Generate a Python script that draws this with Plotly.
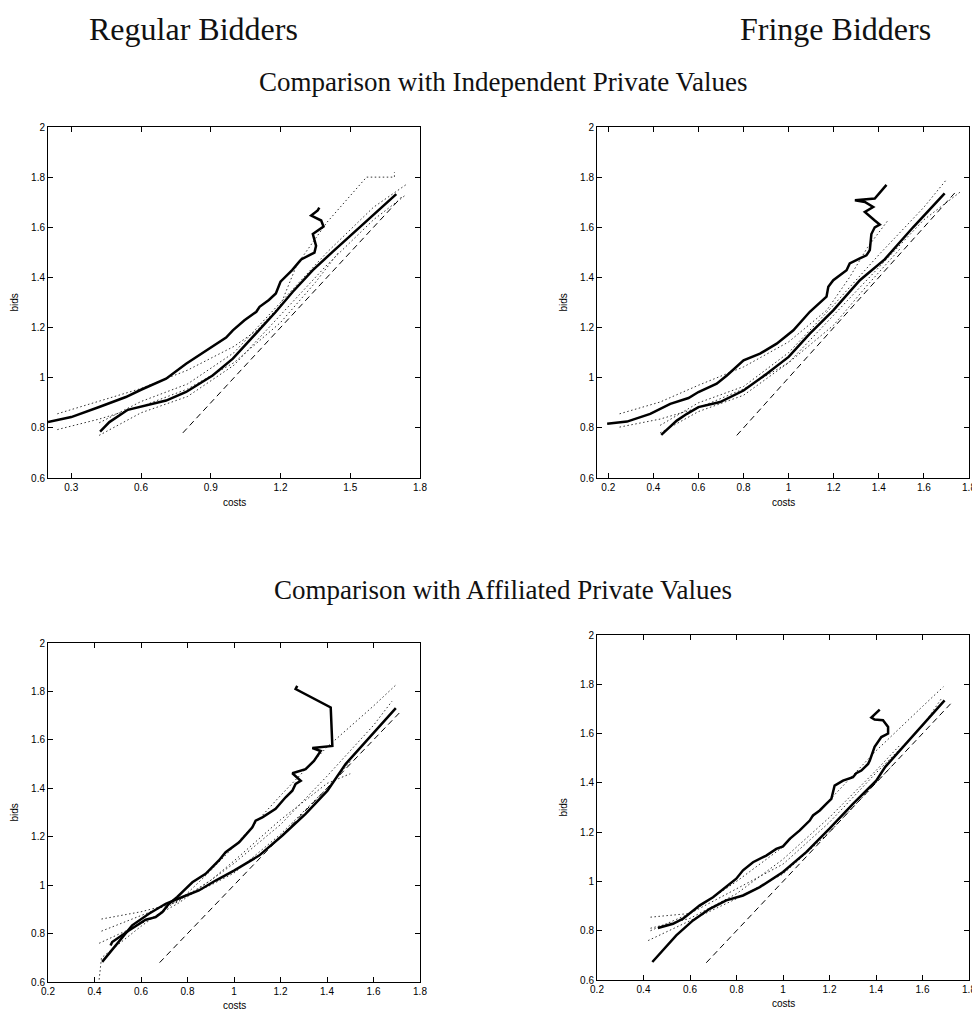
import plotly.graph_objects as go

# ---- data (costs on x, bids on y) ----
# top-left: regular bidders, independent private values
p1_upper_cost = [0.2, 0.3, 0.42, 0.535, 0.6, 0.708, 0.794, 0.88, 0.966, 0.995, 1.045, 1.096, 1.11, 1.15, 1.18,
                 1.2, 1.25, 1.28, 1.289, 1.346, 1.353, 1.339, 1.385, 1.375, 1.346, 1.332, 1.36, 1.367]
p1_upper_bid = [0.823, 0.843, 0.883, 0.923, 0.952, 0.996, 1.056, 1.109, 1.16, 1.189, 1.229, 1.263, 1.283, 1.31, 1.336,
                1.383, 1.429, 1.462, 1.472, 1.499, 1.526, 1.573, 1.603, 1.627, 1.64, 1.647, 1.667, 1.678]
p1_lower_cost = [0.424, 0.464, 0.543, 0.6, 0.708, 0.794, 0.908, 0.995, 1.08, 1.18, 1.253, 1.339, 1.425, 1.54, 1.698]
p1_lower_bid = [0.785, 0.823, 0.872, 0.885, 0.909, 0.943, 1.009, 1.076, 1.163, 1.263, 1.343, 1.429, 1.503, 1.6, 1.732]
p1_diag = [0.78, 1.72]
p1_band_a_cost = [0.24, 0.42, 0.6, 0.8, 1.0, 1.1, 1.2, 1.27, 1.4, 1.57, 1.69, 1.69]
p1_band_a_bid = [0.856, 0.905, 0.957, 1.03, 1.125, 1.19, 1.29, 1.45, 1.62, 1.8, 1.8, 1.82]
p1_band_b_cost = [0.24, 0.42, 0.6, 0.8, 1.0, 1.2, 1.35, 1.45]
p1_band_b_bid = [0.793, 0.835, 0.885, 0.955, 1.06, 1.22, 1.38, 1.5]
p1_band_c_cost = [0.42, 0.6, 0.8, 1.0, 1.2, 1.4, 1.6, 1.74]
p1_band_c_bid = [0.82, 0.905, 0.975, 1.1, 1.3, 1.5, 1.68, 1.77]
p1_band_d_cost = [0.42, 0.6, 0.8, 1.0, 1.2, 1.4, 1.6, 1.74]
p1_band_d_bid = [0.77, 0.86, 0.925, 1.05, 1.25, 1.45, 1.63, 1.73]

# top-right: fringe bidders, independent private values
p2_upper_cost = [0.195, 0.283, 0.386, 0.475, 0.556, 0.6, 0.681, 0.726, 0.8, 0.873, 0.947, 1.021, 1.094, 1.168,
                 1.176, 1.198, 1.257, 1.271, 1.316, 1.345, 1.36, 1.367, 1.382, 1.404, 1.382, 1.338, 1.375,
                 1.338, 1.294, 1.382, 1.434]
p2_upper_bid = [0.816, 0.825, 0.856, 0.896, 0.919, 0.943, 0.976, 1.009, 1.069, 1.096, 1.136, 1.189, 1.263, 1.323,
                1.363, 1.389, 1.429, 1.456, 1.476, 1.488, 1.509, 1.573, 1.6, 1.611, 1.627, 1.661, 1.681,
                1.701, 1.708, 1.715, 1.769]
p2_lower_cost = [0.435, 0.504, 0.549, 0.6, 0.696, 0.8, 0.903, 1.0, 1.094, 1.198, 1.316, 1.426, 1.552, 1.692]
p2_lower_bid = [0.772, 0.829, 0.856, 0.883, 0.903, 0.949, 1.016, 1.083, 1.176, 1.269, 1.389, 1.472, 1.6, 1.735]
p2_diag = [0.77, 1.74]
p2_band_a_cost = [0.25, 0.43, 0.6, 0.8, 1.0, 1.17, 1.27, 1.35, 1.44]
p2_band_a_bid = [0.856, 0.903, 0.97, 1.043, 1.143, 1.27, 1.4, 1.52, 1.627]
p2_band_b_cost = [0.25, 0.43, 0.6, 0.8, 1.0, 1.2, 1.35, 1.5]
p2_band_b_bid = [0.803, 0.835, 0.88, 0.955, 1.06, 1.21, 1.37, 1.52]
p2_band_c_cost = [0.43, 0.6, 0.8, 1.0, 1.2, 1.4, 1.6, 1.7]
p2_band_c_bid = [0.81, 0.9, 0.965, 1.1, 1.29, 1.49, 1.68, 1.79]
p2_band_d_cost = [0.43, 0.6, 0.8, 1.0, 1.2, 1.4, 1.6, 1.76]
p2_band_d_bid = [0.78, 0.865, 0.93, 1.06, 1.25, 1.44, 1.63, 1.74]

# bottom-left: regular bidders, affiliated private values
p3_upper_cost = [0.469, 0.476, 0.548, 0.591, 0.62, 0.663, 0.692, 0.72, 0.756, 0.785, 0.821, 0.878, 0.935, 0.964,
                 1.022, 1.079, 1.093, 1.122, 1.179, 1.222, 1.251, 1.265, 1.287, 1.251, 1.308, 1.344, 1.373,
                 1.337, 1.423, 1.416, 1.265, 1.272]
p3_upper_bid = [0.751, 0.765, 0.813, 0.841, 0.857, 0.868, 0.889, 0.923, 0.951, 0.978, 1.012, 1.047, 1.102, 1.136,
                1.177, 1.239, 1.266, 1.28, 1.315, 1.363, 1.39, 1.418, 1.431, 1.462, 1.479, 1.513, 1.554,
                1.566, 1.575, 1.734, 1.81, 1.823]
p3_lower_cost = [0.433, 0.505, 0.562, 0.634, 0.706, 0.778, 0.849, 0.921, 1.0, 1.108, 1.208, 1.308, 1.402, 1.48, 1.696]
p3_lower_bid = [0.683, 0.765, 0.834, 0.882, 0.923, 0.951, 0.978, 1.019, 1.06, 1.122, 1.205, 1.294, 1.39, 1.5, 1.731]
p3_diag = [0.68, 1.72]
p3_band_a_cost = [0.43, 0.6, 0.76, 0.9, 1.0, 1.2, 1.4, 1.6, 1.7]
p3_band_a_bid = [0.86, 0.89, 0.93, 1.06, 1.16, 1.37, 1.57, 1.74, 1.83]
p3_band_b_cost = [0.42, 0.6, 0.76, 0.9, 1.0, 1.2, 1.4, 1.5]
p3_band_b_bid = [0.76, 0.84, 0.925, 1.02, 1.1, 1.27, 1.42, 1.46]
p3_band_c_cost = [0.43, 0.6, 0.76, 0.9, 1.0, 1.2, 1.4, 1.6, 1.68]
p3_band_c_bid = [0.81, 0.875, 0.935, 1.02, 1.09, 1.25, 1.45, 1.66, 1.76]
p3_band_d_cost = [0.42, 0.43, 0.6, 0.76, 0.9, 1.0, 1.2, 1.4, 1.5]
p3_band_d_bid = [0.61, 0.7, 0.83, 0.94, 1.0, 1.05, 1.21, 1.4, 1.51]

# bottom-right: fringe bidders, affiliated private values
p4_upper_cost = [0.462, 0.527, 0.57, 0.613, 0.642, 0.699, 0.756, 0.799, 0.828, 0.871, 0.928, 0.971, 1.0, 1.029,
                 1.072, 1.115, 1.129, 1.158, 1.186, 1.208, 1.222, 1.258, 1.301, 1.315, 1.337, 1.366, 1.373,
                 1.394, 1.423, 1.452, 1.452, 1.43, 1.394, 1.38, 1.416]
p4_upper_bid = [0.811, 0.828, 0.849, 0.882, 0.903, 0.936, 0.977, 1.011, 1.045, 1.078, 1.105, 1.132, 1.142, 1.173,
                1.207, 1.247, 1.268, 1.288, 1.315, 1.335, 1.389, 1.409, 1.423, 1.439, 1.45, 1.477, 1.49,
                1.546, 1.586, 1.6, 1.627, 1.654, 1.657, 1.665, 1.697]
p4_lower_cost = [0.438, 0.484, 0.541, 0.613, 0.685, 0.756, 0.828, 0.9, 1.0, 1.1, 1.2, 1.301, 1.401, 1.44, 1.695]
p4_lower_bid = [0.673, 0.72, 0.781, 0.842, 0.889, 0.923, 0.943, 0.977, 1.038, 1.119, 1.214, 1.315, 1.409, 1.465, 1.735]
p4_diag = [0.67, 1.73]
p4_band_a_cost = [0.43, 0.6, 0.8, 1.0, 1.2, 1.4, 1.6, 1.69]
p4_band_a_bid = [0.855, 0.87, 1.0, 1.14, 1.33, 1.53, 1.71, 1.79]
p4_band_b_cost = [0.43, 0.6, 0.8, 1.0, 1.2, 1.4, 1.5]
p4_band_b_bid = [0.81, 0.85, 0.95, 1.09, 1.26, 1.45, 1.55]
p4_band_c_cost = [0.43, 0.6, 0.8, 1.0, 1.2, 1.4, 1.6, 1.68]
p4_band_c_bid = [0.8, 0.87, 0.97, 1.07, 1.24, 1.44, 1.63, 1.74]
p4_band_d_cost = [0.42, 0.6, 0.8, 1.0, 1.2, 1.4, 1.47]
p4_band_d_bid = [0.76, 0.84, 0.93, 1.03, 1.2, 1.4, 1.47]

y_ticks = [0.6, 0.8, 1, 1.2, 1.4, 1.6, 1.8, 2]
x_ticks_p1 = [0.3, 0.6, 0.9, 1.2, 1.5, 1.8]
x_ticks = [0.2, 0.4, 0.6, 0.8, 1, 1.2, 1.4, 1.6, 1.8]

# the page body keeps its 8px margin, so the figure is shrunk by it
# and positions below are given in window pixels
OFF = 8
W, H = 980 - OFF, 1012 - OFF


def fx(px):
    return (px - OFF) / W


def fy(py):
    return 1 - (py - OFF) / H


panels = [
    dict(n='', xr=[0.2, 1.8], xt=x_ticks_p1, box=(48, 420, 127, 478), lab=502,
         solid=[(p1_upper_cost, p1_upper_bid), (p1_lower_cost, p1_lower_bid)],
         dotted=[(p1_band_a_cost, p1_band_a_bid), (p1_band_b_cost, p1_band_b_bid),
                 (p1_band_c_cost, p1_band_c_bid), (p1_band_d_cost, p1_band_d_bid)],
         diag=p1_diag),
    dict(n='2', xr=[0.15, 1.8], xt=x_ticks, box=(597, 969, 127, 478), lab=502,
         solid=[(p2_upper_cost, p2_upper_bid), (p2_lower_cost, p2_lower_bid)],
         dotted=[(p2_band_a_cost, p2_band_a_bid), (p2_band_b_cost, p2_band_b_bid),
                 (p2_band_c_cost, p2_band_c_bid), (p2_band_d_cost, p2_band_d_bid)],
         diag=p2_diag),
    dict(n='3', xr=[0.2, 1.8], xt=x_ticks, box=(48, 420, 643, 982), lab=1005,
         solid=[(p3_upper_cost, p3_upper_bid), (p3_lower_cost, p3_lower_bid)],
         dotted=[(p3_band_a_cost, p3_band_a_bid), (p3_band_b_cost, p3_band_b_bid),
                 (p3_band_c_cost, p3_band_c_bid), (p3_band_d_cost, p3_band_d_bid)],
         diag=p3_diag),
    dict(n='4', xr=[0.2, 1.8], xt=x_ticks, box=(597, 969, 635, 980), lab=1003,
         solid=[(p4_upper_cost, p4_upper_bid), (p4_lower_cost, p4_lower_bid)],
         dotted=[(p4_band_a_cost, p4_band_a_bid), (p4_band_b_cost, p4_band_b_bid),
                 (p4_band_c_cost, p4_band_c_bid), (p4_band_d_cost, p4_band_d_bid)],
         diag=p4_diag),
]

fig = go.Figure()
tick_font = dict(family='Liberation Sans, Arial', size=10, color='black')
axis_style = dict(showline=True, linecolor='black', linewidth=1, mirror='ticks', ticks='inside',
                  ticklen=5, tickcolor='black', showgrid=False, zeroline=False, tickfont=tick_font,
                  automargin=False, ticklabeloverflow='allow')
annotations = []

for p in panels:
    xa, ya = 'x' + p['n'], 'y' + p['n']
    for cx, cy in p['dotted']:
        fig.add_trace(go.Scatter(x=cx, y=cy, mode='lines', xaxis=xa, yaxis=ya,
                                 line=dict(color='#333333', width=1, dash='1.5px,2.5px')))
    fig.add_trace(go.Scatter(x=p['diag'], y=p['diag'], mode='lines', xaxis=xa, yaxis=ya,
                             line=dict(color='black', width=1, dash='6px,4px')))
    for cx, cy in p['solid']:
        fig.add_trace(go.Scatter(x=cx, y=cy, mode='lines', xaxis=xa, yaxis=ya,
                                 line=dict(color='black', width=2.5)))
    x0, x1, y0, y1 = p['box']
    fig.layout['xaxis' + p['n']] = dict(axis_style, domain=[fx(x0), fx(x1)], range=p['xr'],
                                         tickvals=p['xt'], anchor=ya)
    fig.layout['yaxis' + p['n']] = dict(axis_style, domain=[fy(y1), fy(y0)], range=[0.6, 2],
                                         tickvals=y_ticks, anchor=xa)
    annotations.append(dict(text='bids', x=fx(x0 - 34), y=fy((y0 + y1) / 2), textangle=-90,
                            font=tick_font))
    annotations.append(dict(text='costs', x=fx((x0 + x1) / 2), y=fy(p['lab']), font=tick_font))

title_font = dict(family='Liberation Serif, Times New Roman, serif', color='#111111')
annotations += [
    dict(text='Regular Bidders', x=fx(193), y=fy(29), font=dict(title_font, size=32)),
    dict(text='Fringe Bidders', x=fx(835), y=fy(29), font=dict(title_font, size=32)),
    dict(text='Comparison with Independent Private Values', x=fx(503), y=fy(82),
         font=dict(title_font, size=27)),
    dict(text='Comparison with Affiliated Private Values', x=fx(503), y=fy(590),
         font=dict(title_font, size=27)),
]
for a in annotations:
    a.update(xref='paper', yref='paper', showarrow=False, xanchor='center', yanchor='middle')

fig.update_layout(width=W, height=H, margin=dict(l=0, r=0, t=0, b=0), showlegend=False,
                  plot_bgcolor='white', paper_bgcolor='white', annotations=annotations)

fig.write_html("out.html")
